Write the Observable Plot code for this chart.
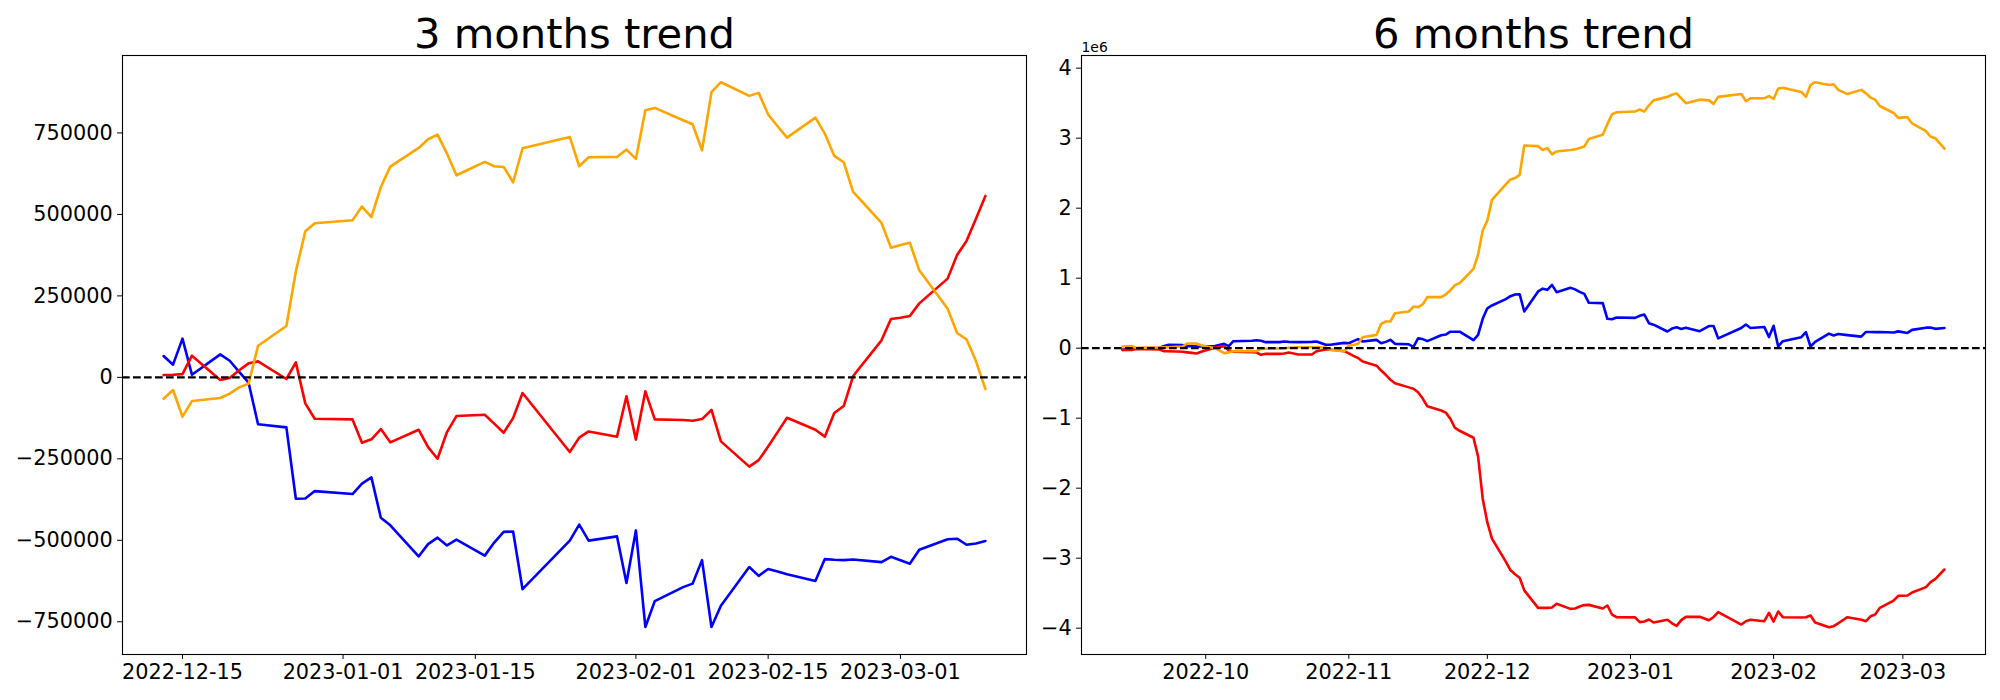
<!DOCTYPE html>
<html><head><meta charset="utf-8">
<script src="https://cdn.jsdelivr.net/npm/d3@7"></script>
<script src="https://cdn.jsdelivr.net/npm/@observablehq/plot@0.6"></script>
<style>
body{margin:0;background:#fff;}
#wrap{position:relative;width:2000px;height:700px;font-family:"DejaVu Sans",sans-serif;}
#left{position:absolute;left:0;top:0;}
#right{position:absolute;left:1040px;top:0;}
</style></head><body><div id="wrap"><div id="left"></div><div id="right"></div></div>
<script>
// ---- 3 months panel ----
const leftDates = ["2022-12-13","2022-12-14","2022-12-15","2022-12-16","2022-12-19","2022-12-20","2022-12-21","2022-12-22","2022-12-23","2022-12-26","2022-12-27","2022-12-28","2022-12-29",
"2023-01-02","2023-01-03","2023-01-04","2023-01-05","2023-01-06","2023-01-09","2023-01-10","2023-01-11","2023-01-12","2023-01-13","2023-01-16","2023-01-17","2023-01-18","2023-01-19","2023-01-20","2023-01-25","2023-01-26","2023-01-27","2023-01-30","2023-01-31",
"2023-02-01","2023-02-02","2023-02-03","2023-02-06","2023-02-07","2023-02-08","2023-02-09","2023-02-10","2023-02-13","2023-02-14","2023-02-15","2023-02-16","2023-02-17","2023-02-20","2023-02-21","2023-02-22","2023-02-23","2023-02-24","2023-02-27","2023-02-28",
"2023-03-01","2023-03-02","2023-03-03","2023-03-06","2023-03-07","2023-03-08","2023-03-09","2023-03-10"];
const leftBlue = [65500,38900,118700,8200,70600,51000,17000,-16400,-144000,-153500,-372500,-371500,-349000,
-358000,-326000,-307000,-430800,-454000,-549500,-511600,-492000,-515600,-498000,-547000,-507000,-474000,-473000,-650000,-501000,-452000,-501000,-488000,-631000,
-469700,-766000,-686600,-643700,-633000,-560800,-766000,-701000,-582000,-609000,-588000,-596000,-604000,-625000,-557700,-559700,-560800,-558700,-567000,-550500,
-561000,-572000,-529000,-497000,-495000,-513700,-509600,-502000];
const leftRed = [7000,8000,10000,66500,-8200,-2000,22000,43000,49000,-5000,46000,-79800,-126900,
-129000,-200600,-190000,-158600,-199500,-160700,-213900,-249700,-167800,-118700,-114600,-142000,-170000,-125000,-48000,-229000,-185000,-166000,-182000,-58000,
-191000,-43000,-129000,-131000,-133000,-128000,-100000,-196500,-274000,-254000,-212000,-168000,-124000,-160700,-182000,-109500,-88000,4000,113600,179000,
183000,188000,227000,303000,375500,418500,487000,556700];
const leftOrange = [-65500,-38900,-120700,-72700,-63400,-50100,-30700,-19400,97000,157600,325000,448000,472800,
482000,524000,492000,584000,646700,704000,730600,745000,686600,620000,661000,647800,645700,598600,703000,737800,647800,675400,676400,699000,
670300,819700,826800,789000,776700,696900,874900,905600,863700,872900,806400,770500,735700,797000,748000,679500,660000,569000,473800,398000,
406000,413000,328500,210800,136000,116700,50000,-36000];
const leftXTicks = ["2022-12-15","2023-01-01","2023-01-15","2023-02-01","2023-02-15","2023-03-01"];
const leftYTicks = [-750000,-500000,-250000,0,250000,500000,750000];

// ---- 6 months panel (values in units of 1e6) ----
const rightDates = ["2022-09-13","2022-09-15","2022-09-16","2022-09-21","2022-09-22","2022-09-23","2022-09-26","2022-09-27","2022-09-28","2022-09-29","2022-09-30",
"2022-10-03","2022-10-05","2022-10-06","2022-10-07","2022-10-11","2022-10-12","2022-10-13","2022-10-14","2022-10-17","2022-10-18","2022-10-19","2022-10-21","2022-10-24","2022-10-25","2022-10-27","2022-10-28","2022-10-31",
"2022-11-01","2022-11-02","2022-11-03","2022-11-04","2022-11-07","2022-11-08","2022-11-09","2022-11-10","2022-11-11","2022-11-14","2022-11-15","2022-11-16","2022-11-17","2022-11-18","2022-11-21","2022-11-22","2022-11-23","2022-11-24","2022-11-25","2022-11-28","2022-11-29","2022-11-30",
"2022-12-01","2022-12-02","2022-12-05","2022-12-06","2022-12-07","2022-12-08","2022-12-09","2022-12-12","2022-12-13","2022-12-14","2022-12-15","2022-12-16","2022-12-19","2022-12-20","2022-12-21","2022-12-22","2022-12-23","2022-12-26","2022-12-27","2022-12-28","2022-12-29",
"2023-01-02","2023-01-03","2023-01-04","2023-01-05","2023-01-06","2023-01-09","2023-01-10","2023-01-11","2023-01-12","2023-01-13","2023-01-16","2023-01-18","2023-01-19","2023-01-20","2023-01-25","2023-01-26","2023-01-27","2023-01-30","2023-01-31",
"2023-02-01","2023-02-02","2023-02-03","2023-02-07","2023-02-08","2023-02-09","2023-02-10","2023-02-13","2023-02-14","2023-02-15","2023-02-17","2023-02-20","2023-02-21","2023-02-22","2023-02-23","2023-02-24","2023-02-27","2023-02-28",
"2023-03-02","2023-03-03","2023-03-06","2023-03-07","2023-03-08","2023-03-10"];
const rightBlue = [-0.024,-0.005,0.000,0.005,0.030,0.048,0.043,0.030,0.030,0.026,0.024,
0.030,0.062,0.029,0.100,0.105,0.114,0.105,0.086,0.086,0.095,0.090,0.086,0.090,0.095,0.048,0.048,0.076,
0.071,0.100,0.129,0.095,0.119,0.071,0.090,0.119,0.062,0.055,0.020,0.140,0.130,0.100,0.185,0.195,0.235,0.235,0.235,0.115,0.190,0.420,
0.570,0.610,0.700,0.743,0.767,0.771,0.524,0.810,0.850,0.833,0.905,0.800,0.862,0.840,0.805,0.775,0.648,0.643,0.420,0.414,0.438,
0.433,0.462,0.481,0.357,0.336,0.238,0.280,0.298,0.275,0.292,0.243,0.316,0.317,0.140,0.289,0.338,0.289,0.302,0.159,
0.320,0.024,0.100,0.157,0.229,0.024,0.089,0.208,0.181,0.202,0.186,0.165,0.232,0.230,0.229,0.231,0.223,0.240,
0.218,0.261,0.293,0.295,0.276,0.288];
const rightRed = [-0.024,-0.024,-0.010,-0.019,-0.043,-0.045,-0.052,-0.060,-0.067,-0.076,-0.052,
0.005,0.029,-0.033,-0.052,-0.057,-0.062,-0.095,-0.081,-0.081,-0.075,-0.062,-0.090,-0.090,-0.043,-0.019,-0.019,-0.043,
-0.075,-0.110,-0.140,-0.190,-0.250,-0.320,-0.380,-0.450,-0.500,-0.560,-0.580,-0.630,-0.720,-0.830,-0.890,-0.920,-1.010,-1.140,-1.180,-1.280,-1.550,-2.150,
-2.490,-2.720,-3.050,-3.170,-3.230,-3.280,-3.460,-3.710,-3.710,-3.710,-3.705,-3.652,-3.724,-3.719,-3.690,-3.670,-3.667,-3.719,-3.676,-3.805,-3.843,
-3.845,-3.914,-3.905,-3.876,-3.919,-3.880,-3.930,-3.967,-3.885,-3.838,-3.838,-3.886,-3.840,-3.771,-3.948,-3.900,-3.880,-3.900,-3.781,
-3.905,-3.762,-3.843,-3.848,-3.843,-3.820,-3.919,-3.986,-3.971,-3.930,-3.843,-3.880,-3.900,-3.830,-3.805,-3.710,-3.605,-3.538,
-3.533,-3.490,-3.414,-3.343,-3.300,-3.162];
const rightOrange = [0.024,0.029,0.005,0.010,0.012,0.014,0.024,0.067,0.067,0.067,0.043,
0.000,-0.071,-0.060,-0.043,-0.043,-0.043,-0.010,-0.008,-0.005,0.000,0.005,0.014,0.014,0.014,0.010,-0.024,-0.043,
0.038,0.045,0.062,0.157,0.190,0.348,0.381,0.381,0.500,0.524,0.595,0.586,0.624,0.729,0.729,0.767,0.830,0.900,0.929,1.133,1.338,1.681,
1.824,2.119,2.340,2.410,2.430,2.476,2.895,2.886,2.830,2.860,2.770,2.810,2.830,2.840,2.860,2.880,2.990,3.050,3.200,3.340,3.370,
3.380,3.410,3.380,3.470,3.540,3.590,3.620,3.640,3.570,3.500,3.550,3.540,3.490,3.590,3.630,3.530,3.570,3.570,3.600,
3.560,3.710,3.720,3.660,3.590,3.760,3.800,3.760,3.770,3.690,3.630,3.690,3.640,3.580,3.550,3.460,3.360,3.290,
3.300,3.210,3.100,3.020,3.000,2.850];
const rightXTicks = ["2022-10-01","2022-11-01","2022-12-01","2023-01-01","2023-02-01","2023-03-01"];
const rightYTicks = [-4,-3,-2,-1,0,1,2,3,4];

const seriesColors = {blue: "#0000ff", red: "#ff0000", orange: "#ffa500"};

function rows(dates, vals) { return dates.map((d, i) => ({date: new Date(d), value: vals[i]})); }
const minusFmt = v => v < 0 ? "\u2212" + Math.abs(v) : String(v);

function panel({dates, series, xTicks, xFmt, yTicks, yDomain, width, marginLeft, marginRight, title, offset}) {
  const parsed = dates.map(d => new Date(d));
  const [d0, d1] = d3.extent(parsed);
  const pad = (d1 - d0) * 0.05;
  const marks = [];
  for (const s of series) {
    marks.push(Plot.line(rows(dates, s.values), {x: "date", y: "value", stroke: s.color, strokeWidth: 2.6}));
  }
  marks.push(Plot.ruleY([0], {stroke: "black", strokeWidth: 2.2, strokeDasharray: "7.7,3.3"}));
  marks.push(Plot.frame({stroke: "black", strokeWidth: 1.1}));
  marks.push(Plot.text([title], {text: d => d, frameAnchor: "top", lineAnchor: "bottom", dy: -8, fontSize: 41.7, fill: "black"}));
  if (offset) marks.push(Plot.text([offset], {text: d => d, frameAnchor: "top-left", textAnchor: "start", lineAnchor: "bottom", dy: -4, fontSize: 13.9, fill: "black"}));
  return Plot.plot({
    width, height: 700, marginTop: 55, marginBottom: 46, marginLeft, marginRight,
    style: {fontFamily: "DejaVu Sans", fontSize: "20.8px", color: "black", background: "white", overflow: "visible"},
    x: {type: "utc", domain: [new Date(+d0 - pad), new Date(+d1 + pad)], ticks: xTicks.map(d => new Date(d)), tickFormat: xFmt, tickSize: 4.9, tickPadding: 4.9, label: null},
    y: {domain: yDomain, ticks: yTicks, tickFormat: minusFmt, tickSize: 4.9, tickPadding: 4.9, label: null},
    marks
  });
}

document.getElementById("left").appendChild(panel({
  dates: leftDates,
  series: [{values: leftBlue, color: seriesColors.blue}, {values: leftRed, color: seriesColors.red}, {values: leftOrange, color: seriesColors.orange}],
  xTicks: leftXTicks, xFmt: d3.utcFormat("%Y-%m-%d"),
  yTicks: leftYTicks, yDomain: [-850400, 987600],
  width: 1040, marginLeft: 122, marginRight: 14,
  title: "3 months trend"
}));
document.getElementById("right").appendChild(panel({
  dates: rightDates,
  series: [{values: rightBlue, color: seriesColors.blue}, {values: rightRed, color: seriesColors.red}, {values: rightOrange, color: seriesColors.orange}],
  xTicks: rightXTicks, xFmt: d3.utcFormat("%Y-%m"),
  yTicks: rightYTicks, yDomain: [-4.376, 4.181],
  width: 960, marginLeft: 41, marginRight: 15,
  title: "6 months trend", offset: "1e6"
}));
</script></body></html>
